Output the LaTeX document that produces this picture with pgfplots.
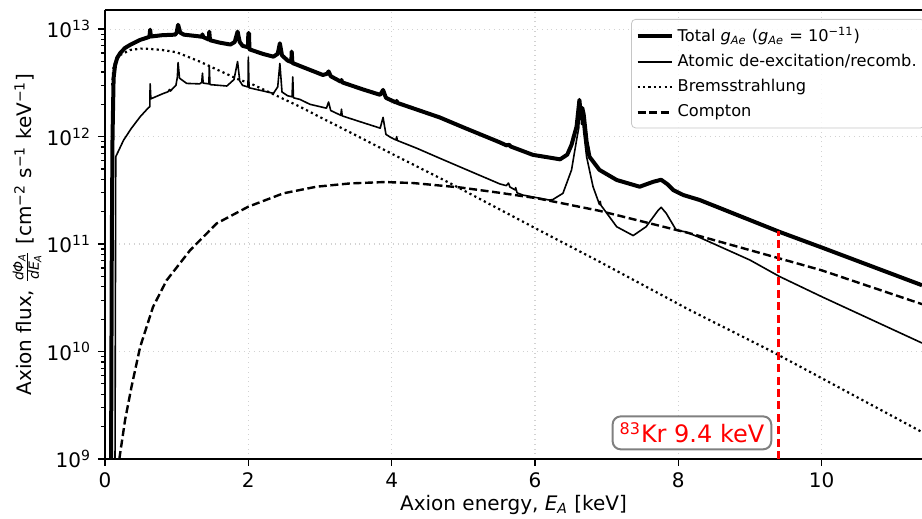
\documentclass[border=0pt]{standalone}
\usepackage{fontspec}
\setmainfont{DejaVu Sans}
\usepackage{amsmath}
\usepackage{pgfplots}
\pgfplotsset{compat=1.18}
\begin{document}
\begin{tikzpicture}
\begin{axis}[
  name=ax,
  scale only axis,
  width=408.5pt, height=224.5pt,
  xmin=0, xmax=11.4,
  ymode=log, ymin=1e9, ymax=1.51e13,
  axis y line*=left,
  xtick={0,2,4,6,8,10},
  xtick pos=bottom,
  ytick={1e9,1e10,1e11,1e12,1e13},
  yticklabels={10\textsuperscript{9},10\textsuperscript{10},10\textsuperscript{11},10\textsuperscript{12},10\textsuperscript{13}},
  tick align=outside,
  major tick length=3.5pt, minor tick length=2pt,
  every major tick/.style={black, line width=0.8pt},
  every minor tick/.style={black, line width=0.6pt},
  /pgf/number format/assume math mode=true,
  tick label style={font=\fontsize{10}{12}\selectfont},
  label style={font=\fontsize{10}{12}\selectfont},
  axis line style={line width=0.8pt},
  grid=major,
  major grid style={gray!35, dotted, line width=0.6pt},
  xlabel={Axion energy, \textit{E}\textsubscript{\textit{A}} [keV]},
  ylabel={Axion flux, $\frac{\textit{dΦ}_{\textit{A}}}{\textit{dE}_{\textit{A}}}$ [cm\textsuperscript{−2} s\textsuperscript{−1} keV\textsuperscript{−1}]},
  xlabel style={at={(axis description cs:0.5,-0.1025)}, anchor=center},
  ylabel style={at={(axis description cs:-0.0955,0.5)}, anchor=center},
  legend style={at={(rel axis cs:0.644,0.98)}, anchor=north west, draw=gray!45, rounded corners=2pt,
    fill=white, fill opacity=0.8, text opacity=1, font=\fontsize{8.1}{9.7}\selectfont,
    inner xsep=2pt, inner ysep=2pt, row sep=1pt, cells={anchor=west}},
  legend cell align=left,
]
% Total
\addplot[black, line width=2pt, line join=round] coordinates {
(0.085,1e9) (0.095,1e11) (0.105,1e12) (0.12,3.5e12) (0.14,4.6e12) (0.17,5.4e12) (0.21,5.97e12)
(0.28,6.7e12) (0.35,7.14e12) (0.49,7.95e12) (0.6,8.4e12) (0.62,8.5e12) (0.63,9.9e12) (0.64,8.55e12)
(0.8,8.8e12) (0.9,8.85e12) (0.98,8.9e12) (1.0,9.3e12) (1.02,1.1e13) (1.05,9.3e12) (1.1,8.9e12)
(1.3,8.6e12) (1.35,8.5e12) (1.36,8.95e12) (1.37,8.45e12) (1.45,8.0e12) (1.455,9.5e12) (1.465,7.9e12)
(1.6,7.5e12) (1.75,7.2e12) (1.81,7.6e12) (1.85,9.5e12) (1.88,7.6e12) (1.92,7.0e12) (1.995,6.8e12)
(2.0,9.2e12) (2.01,9.2e12) (2.015,6.5e12) (2.2,5.9e12) (2.35,5.55e12) (2.41,5.9e12) (2.44,7.4e12)
(2.47,5.7e12) (2.55,5.1e12) (2.6,4.95e12) (2.605,6.2e12) (2.615,4.85e12) (2.72,4.55e12) (3.04,3.75e12)
(3.1,3.85e12) (3.12,4.05e12) (3.15,3.65e12) (3.29,3.25e12) (3.3,3.37e12) (3.31,3.2e12) (3.6,2.75e12)
(3.84,2.45e12) (3.88,2.72e12) (3.92,2.3e12) (3.98,2.2e12) (4.06,2.08e12) (4.07,2.15e12) (4.08,2.06e12)
(4.67,1.51e12) (5.0,1.22e12) (5.5,8.9e11) (5.6,8.3e11) (5.64,8.4e11) (5.66,8.1e11) (5.97,6.77e11)
(6.35,6.15e11) (6.45,6.8e11) (6.51,8.4e11) (6.58,1.24e12) (6.62,2.2e12) (6.64,1.55e12) (6.66,1.85e12)
(6.68,1.6e12) (6.72,9e11) (6.76,6.5e11) (6.9,4.9e11) (7.14,3.95e11) (7.46,3.42e11) (7.65,3.8e11)
(7.76,3.97e11) (7.85,3.6e11) (7.93,3.18e11) (8.07,2.86e11) (8.3,2.57e11) (9.41,1.3e11) (10.0,9.3e10)
(11.4,4.14e10)
};
\addlegendentry{Total \textit{g}\textsubscript{\textit{Ae}} (\textit{g}\textsubscript{\textit{Ae}} = 10\textsuperscript{−11})}
% Atomic
\addplot[black, line width=0.8pt, line join=round] coordinates {
(0.14,1e9) (0.15,6.5e11) (0.26,9.3e11) (0.37,1.2e12) (0.49,1.53e12) (0.6,1.84e12) (0.625,1.9e12)
(0.63,3.1e12) (0.64,2.25e12) (0.8,2.5e12) (0.88,2.62e12) (0.9,2.75e12) (0.91,2.65e12) (0.99,3.0e12)
(1.01,3.6e12) (1.02,4.9e12) (1.04,3.5e12) (1.14,3.13e12) (1.32,3.1e12) (1.35,3.2e12) (1.36,3.9e12)
(1.37,3.15e12) (1.45,3.1e12) (1.455,4.6e12) (1.465,3.05e12) (1.7,2.96e12) (1.8,3.4e12) (1.85,5.0e12)
(1.88,3.3e12) (1.92,3.0e12) (1.995,2.9e12) (2.0,5.5e12) (2.01,2.85e12) (2.35,2.53e12) (2.41,2.9e12)
(2.44,4.8e12) (2.47,2.6e12) (2.55,2.4e12) (2.61,2.35e12) (2.62,3.6e12) (2.63,2.3e12) (2.72,2.22e12)
(2.86,2.0e12) (3.09,1.84e12) (3.12,2.1e12) (3.15,1.75e12) (3.29,1.58e12) (3.3,1.8e12) (3.31,1.56e12)
(3.6,1.35e12) (3.84,1.2e12) (3.88,1.51e12) (3.92,1.05e12) (3.98,9.9e11) (4.06,9.3e11) (4.07,1.0e12)
(4.08,9.2e11) (4.35,7.8e11) (4.67,6.3e11) (5.0,5.07e11) (5.51,3.63e11) (5.6,3.5e11) (5.63,3.7e11)
(5.65,3.4e11) (5.72,3.2e11) (5.73,3.35e11) (5.75,3.0e11) (5.83,2.86e11) (6.2,2.57e11) (6.25,2.6e11)
(6.39,2.97e11) (6.51,4.9e11) (6.58,9.3e11) (6.61,1.2e12) (6.63,2.0e12) (6.65,1.3e12) (6.66,1.5e12)
(6.68,1.1e12) (6.72,6.5e11) (6.81,3.42e11) (6.9,2.33e11) (6.91,2.5e11) (6.92,2.3e11) (7.14,1.45e11)
(7.37,1.2e11) (7.55,1.45e11) (7.72,2.07e11) (7.76,2.2e11) (7.83,1.94e11) (7.97,1.35e11) (8.1,1.3e11)
(8.3,1.15e11) (9.0,7.1e10) (9.41,5.0e10) (10.0,3.24e10) (11.4,1.2e10)
};
\addlegendentry{Atomic de-excitation/recomb.}
% Bremsstrahlung
\addplot[black, line width=1.1pt, dash pattern=on 1.1pt off 1.6pt] coordinates {
(0.1,3.0e12) (0.12,4.6e12) (0.2,5.7e12) (0.35,6.4e12) (0.5,6.6e12) (0.63,6.55e12) (0.8,6.4e12)
(1.0,6.1e12) (1.32,5.0e12) (1.6,4.1e12) (1.88,3.37e12) (2.02,3.15e12) (2.72,1.9e12) (3.0,1.52e12)
(3.5,1.03e12) (3.98,7.05e11) (4.81,3.7e11) (6.0,1.41e11) (6.91,6.8e10) (8.16,2.43e10) (9.27,1.03e10)
(10,5.65e9) (11.4,1.78e9)
};
\addlegendentry{Bremsstrahlung}
% Compton
\addplot[black, line width=1.2pt, dash pattern=on 4pt off 1.8pt] coordinates {
(0.2,1e9) (0.28,2.3e9) (0.37,4.7e9) (0.49,1.1e10) (0.67,2.6e10) (0.86,4.6e10) (1.19,8.8e10)
(1.56,1.56e11) (2.0,2.23e11) (2.49,2.97e11) (2.95,3.42e11) (3.42,3.67e11) (3.9,3.78e11) (4.3,3.7e11)
(4.95,3.37e11) (5.51,3.0e11) (6.03,2.67e11) (6.9,2.04e11) (8.16,1.26e11) (9.41,7.36e10) (10,5.7e10)
(11.4,2.76e10)
};
\addlegendentry{Compton}
% 83Kr line
\addplot[red, line width=1.2pt, dash pattern=on 4pt off 2.2pt, forget plot] coordinates {(9.4,1e9) (9.4,1.33e11)};
\node[draw=gray, rounded corners=4pt, line width=1pt, text=red, font=\fontsize{12}{14}\selectfont,
  inner xsep=3.5pt, inner ysep=3pt, fill=white] at (axis cs:8.19,1.75e9) {\textsuperscript{83}Kr 9.4 keV};
\end{axis}
\pgfresetboundingbox
\path ([shift={(-52.5pt,-30pt)}]ax.south west) rectangle ([shift={(0pt,5pt)}]ax.north east);
\end{tikzpicture}
\end{document}
